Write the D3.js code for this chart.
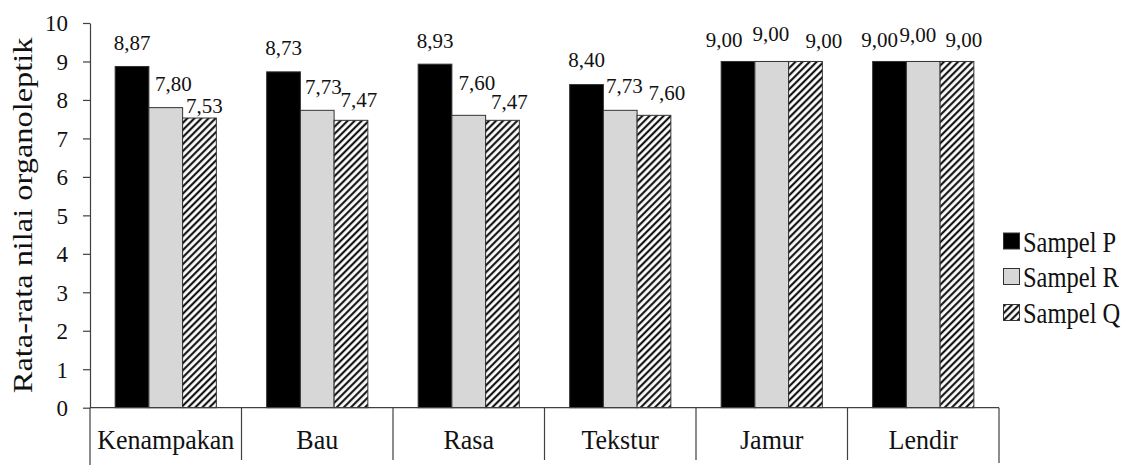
<!DOCTYPE html>
<html><head><meta charset="utf-8">
<script src="https://cdn.jsdelivr.net/npm/d3@7"></script>
<style>
body{margin:0;background:#fff}
svg{display:block}
svg text{font-family:"Liberation Serif","Times New Roman","DejaVu Serif",serif !important;}
</style>
</head><body>
<svg id="c" width="1132" height="465"></svg>
<script>
// ---------- data ----------
const categories = ["Kenampakan", "Bau", "Rasa", "Tekstur", "Jamur", "Lendir"];
const seriesNames = ["Sampel P", "Sampel R", "Sampel Q"];
const sampelP = [8.87, 8.73, 8.93, 8.40, 9.00, 9.00];
const sampelR = [7.80, 7.73, 7.60, 7.73, 9.00, 9.00];
const sampelQ = [7.53, 7.47, 7.47, 7.60, 9.00, 9.00];
const yTicks = [0, 1, 2, 3, 4, 5, 6, 7, 8, 9, 10];
const yTitle = "Rata-rata nilai organoleptik";
// label placement nudges [dx, dy] (layout only, as placed in the original)
const nudgeP = [[0, 0], [0, -1], [0, 0], [0, -2], [-14, 1.5], [-10, 1.5]];
const nudgeR = [[7.5, -1], [6, 0], [8, -9], [4, -1], [-1, -4], [-5.5, -3.5]];
const nudgeQ = [[5, 11], [8, 3], [7, 5], [13, 1], [18.5, 3], [7, 1.5]];

const seriesValues = [sampelP, sampelR, sampelQ];
const seriesNudges = [nudgeP, nudgeR, nudgeQ];
const fills = ["#000000", "#d7d7d7", "url(#hatch)"];

// ---------- layout ----------
const svg = d3.select("#c");
const plotLeft = 90, plotRight = 999, plotTop = 23, plotBase = 407.7;

const defs = svg.append("defs");
const pat = defs.append("pattern").attr("id", "hatch")
  .attr("patternUnits", "userSpaceOnUse").attr("width", 5).attr("height", 5)
  .attr("patternTransform", "rotate(45)");
pat.append("rect").attr("width", 5).attr("height", 5).attr("fill", "#fff");
pat.append("line").attr("x1", 1.2).attr("y1", 0).attr("x2", 1.2).attr("y2", 5)
  .attr("stroke", "#000").attr("stroke-width", 2);

const x0 = d3.scaleBand().domain(categories).range([plotLeft, plotRight]).padding(0);
const x1 = d3.scaleBand().domain(seriesNames)
  .range([x0.bandwidth() * 0.166, x0.bandwidth() * 0.834]).padding(0);
const y = d3.scaleLinear().domain([0, 10]).range([plotBase, plotTop]);

const fmt = v => d3.format(".2f")(v).replace(".", ",");

// bars
const g = svg.append("g");
categories.forEach((cat, i) => {
  seriesNames.forEach((s, j) => {
    const v = seriesValues[j][i];
    g.append("rect")
      .attr("x", x0(cat) + x1(s))
      .attr("y", y(v))
      .attr("width", x1.bandwidth())
      .attr("height", y(0) - y(v))
      .attr("fill", fills[j])
      .attr("stroke", "#333").attr("stroke-width", 1);
  });
});

// y axis
const yAxis = svg.append("g").attr("transform", `translate(${plotLeft},0)`)
  .call(d3.axisLeft(y).tickValues(yTicks).tickSize(7).tickSizeOuter(0).tickPadding(15)
    .tickFormat(d3.format("d")));
yAxis.attr("font-family", null);
yAxis.select(".domain").attr("stroke", "#404040").attr("stroke-width", 1.2);
yAxis.selectAll(".tick line").attr("stroke", "#404040").attr("stroke-width", 1.2);
yAxis.selectAll(".tick text").attr("font-size", 23)
  .attr("fill", "#111").attr("dy", "0.34em");
// axis extension below baseline
svg.append("line").attr("x1", plotLeft).attr("x2", plotLeft).attr("y1", plotBase).attr("y2", 465)
  .attr("stroke", "#404040").attr("stroke-width", 1.2);

// x axis baseline and separators
svg.append("line").attr("x1", plotLeft).attr("x2", plotRight).attr("y1", plotBase).attr("y2", plotBase)
  .attr("stroke", "#404040").attr("stroke-width", 1.2);
categories.forEach((cat, i) => {
  if (i > 0) {
    svg.append("line").attr("x1", x0(cat)).attr("x2", x0(cat))
      .attr("y1", plotBase).attr("y2", 460).attr("stroke", "#404040").attr("stroke-width", 1.2);
  }
});
svg.append("line").attr("x1", plotRight).attr("x2", plotRight).attr("y1", plotBase).attr("y2", 463)
  .attr("stroke", "#404040").attr("stroke-width", 1.2);

// category labels
categories.forEach(cat => {
  svg.append("text")
    .attr("transform", `translate(${x0(cat) + x0.bandwidth() / 2},449) scale(1,1.07)`)
    .attr("text-anchor", "middle").attr("font-size", 26)
    .attr("fill", "#111").text(cat);
});

// value labels
categories.forEach((cat, i) => {
  seriesNames.forEach((s, j) => {
    const v = seriesValues[j][i];
    const [dx, dy] = seriesNudges[j][i];
    svg.append("text")
      .attr("x", x0(cat) + x1(s) + x1.bandwidth() / 2 + dx)
      .attr("y", y(v) - 16 + dy)
      .attr("text-anchor", "middle").attr("font-size", 21)
      .attr("fill", "#111").text(fmt(v));
  });
});

// y title
svg.append("text")
  .attr("transform", `translate(32,${(plotTop + plotBase) / 2}) rotate(-90) scale(1.2,1)`)
  .attr("text-anchor", "middle").attr("font-size", 27)
  .attr("fill", "#111").text(yTitle);

// legend
const legendBase = [251.5, 287, 323];
seriesNames.forEach((s, j) => {
  svg.append("rect").attr("x", 1003.5).attr("y", legendBase[j] - 18.5)
    .attr("width", 16).attr("height", 16)
    .attr("fill", fills[j]).attr("stroke", "#333").attr("stroke-width", 1);
  svg.append("text")
    .attr("transform", `translate(1023,${legendBase[j]}) scale(1,1.18)`)
    .attr("font-size", 24.5).attr("fill", "#111").text(s);
});
</script>
</body></html>
